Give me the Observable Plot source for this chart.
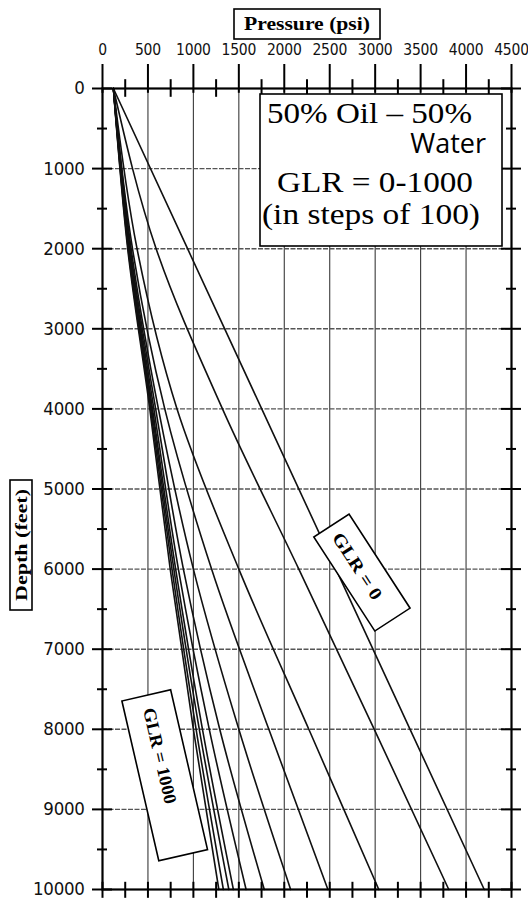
<!DOCTYPE html>
<html><head><meta charset="utf-8">
<script src="https://cdn.jsdelivr.net/npm/d3@7"></script>
<script src="https://cdn.jsdelivr.net/npm/@observablehq/plot@0.6"></script>
<style>
html,body{margin:0;padding:0;background:#fff;}
#chart{position:relative;width:528px;height:899px;}
</style></head><body><div id="chart"></div>
<script>
// Depth points (ft) at which each curve's pressure was read
const depths = [0, 2000, 4000, 6000, 8000, 10000];
const glrLevels = [0, 100, 200, 300, 400, 500, 600, 700, 800, 900, 1000];
// Pressure (psi) at each depth, one array per GLR curve
const glr0    = [120, 936, 1752, 2568, 3384, 4200];
const glr100  = [120, 590, 1320, 2160, 2990, 3810];
const glr200  = [120, 380, 820, 1500, 2270, 3040];
const glr300  = [120, 330, 685, 1200, 1830, 2480];
const glr400  = [120, 315, 615, 1000, 1500, 2070];
const glr500  = [120, 305, 585, 890, 1290, 1780];
const glr600  = [120, 298, 565, 835, 1175, 1580];
const glr700  = [120, 292, 550, 805, 1100, 1440];
const glr800  = [120, 287, 540, 785, 1065, 1390];
const glr900  = [120, 282, 530, 765, 1030, 1330];
const glr1000 = [120, 277, 520, 745, 1000, 1280];
const pressureTicks = [0, 500, 1000, 1500, 2000, 2500, 3000, 3500, 4000, 4500];
const pressureMinor = [250, 750, 1250, 1750, 2250, 2750, 3250, 3750, 4250];
const depthTicks = [0, 1000, 2000, 3000, 4000, 5000, 6000, 7000, 8000, 9000, 10000];
const depthMinor = [500, 1500, 2500, 3500, 4500, 5500, 6500, 7500, 8500, 9500];

const series = [glr0, glr100, glr200, glr300, glr400, glr500, glr600, glr700, glr800, glr900, glr1000];
const rows = series.flatMap((vals, i) => vals.map((p, j) => ({glr: glrLevels[i], depth: depths[j], pressure: p})));
const pressure250 = pressureTicks.concat(pressureMinor);

const numFont = "'Liberation Sans Narrow','DejaVu Sans Condensed','Arial Narrow',sans-serif";
const serif = "'Liberation Serif','Times New Roman',serif";

const plot = Plot.plot({
  width: 528,
  height: 899,
  marginTop: 88,
  marginLeft: 102,
  marginRight: 17,
  marginBottom: 10,
  style: {fontFamily: numFont, fontSize: "16px", color: "#111", background: "#fff"},
  x: {domain: [0, 4500], axis: "top", ticks: pressureTicks, tickSize: 0, tickPadding: 34, tickFormat: d => String(d), label: null},
  y: {domain: [0, 10000], reverse: true, axis: "left", ticks: depthTicks, tickSize: 0, tickPadding: 18, tickFormat: d => String(d), label: null},
  marks: [
    Plot.ruleX(pressureTicks.slice(1, -1), {y1: 0, y2: 10000, stroke: "#3a3a3a", strokeWidth: 1.1}),
    Plot.ruleY(depthTicks.slice(1, -1), {x1: 0, x2: 4500, stroke: "#555", strokeWidth: 1.4, strokeDasharray: "5,1.5"}),
    Plot.line(rows, {x: "pressure", y: "depth", z: "glr", stroke: "#111", strokeWidth: 1.6, curve: "monotone-y"}),
    Plot.frame({stroke: "#000", strokeWidth: 2.2}),
    Plot.ruleX(pressureTicks, {y1: -300, y2: 60, stroke: "#000", strokeWidth: 2}),
    Plot.ruleX(pressureMinor, {y1: -110, y2: 110, stroke: "#000", strokeWidth: 2}),
    Plot.ruleX(pressure250, {y1: 9910, y2: 10110, stroke: "#000", strokeWidth: 2}),
    Plot.ruleY(depthTicks, {x1: -110, x2: 110, stroke: "#000", strokeWidth: 2}),
    Plot.ruleY(depthMinor, {x1: -55, x2: 55, stroke: "#000", strokeWidth: 2}),
    Plot.ruleY(depthTicks, {x1: 4390, x2: 4610, stroke: "#000", strokeWidth: 2}),
    Plot.ruleY(depthMinor, {x1: 4445, x2: 4555, stroke: "#000", strokeWidth: 2})
  ]
});
document.getElementById("chart").appendChild(plot);

const svg = d3.select(plot);
const xs = plot.scale("x"), ys = plot.scale("y");
svg.selectAll("[aria-label='x-axis tick label'] text").attr("font-size", 15.5).attr("letter-spacing", "-0.2");
svg.selectAll("[aria-label='y-axis tick label'] text").attr("font-size", 18.5).attr("letter-spacing", "-0.3");

function fit(sel, len) { return sel.attr("textLength", len).attr("lengthAdjust", "spacingAndGlyphs"); }

// Axis titles
const pt = svg.append("g").attr("transform", "translate(307,24)");
pt.append("rect").attr("x", -73).attr("y", -15).attr("width", 146).attr("height", 30).attr("fill", "#fff").attr("stroke", "#000").attr("stroke-width", 1.6);
fit(pt.append("text").attr("text-anchor", "middle").attr("dy", "0.35em").attr("font-family", serif).attr("font-weight", "bold").attr("font-size", 18).attr("fill", "#000").text("Pressure (psi)"), 126);

const dt = svg.append("g").attr("transform", "translate(21,545) rotate(-90)");
dt.append("rect").attr("x", -65).attr("y", -11).attr("width", 130).attr("height", 22).attr("fill", "#fff").attr("stroke", "#000").attr("stroke-width", 1.6);
fit(dt.append("text").attr("text-anchor", "middle").attr("dy", "0.35em").attr("font-family", serif).attr("font-weight", "bold").attr("font-size", 16.5).attr("fill", "#000").text("Depth (feet)"), 112);

// Legend box
const lg = svg.append("g");
lg.append("rect").attr("x", 260).attr("y", 94).attr("width", 242).attr("height", 152).attr("fill", "#fff").attr("stroke", "#000").attr("stroke-width", 1.6);
fit(lg.append("text").attr("x", 267).attr("y", 123).attr("text-anchor", "start").attr("font-family", serif).attr("font-size", 30).attr("fill", "#000").text("50% Oil \u2013 50%"), 205);
lg.append("text").attr("x", 486).attr("y", 153).attr("text-anchor", "end").attr("font-family", "'Open Sans','Liberation Sans',sans-serif").attr("font-size", 27).attr("fill", "#000").text("Water");
fit(lg.append("text").attr("x", 277).attr("y", 192).attr("text-anchor", "start").attr("font-family", serif).attr("font-size", 30).attr("fill", "#000").text("GLR = 0-1000"), 196);
fit(lg.append("text").attr("x", 262).attr("y", 224).attr("text-anchor", "start").attr("font-family", serif).attr("font-size", 30).attr("fill", "#000").text("(in steps of 100)"), 218);

// Rotated curve labels (positioned in data coordinates)
function tag(p, d, angle, w, h, label, shift, len) {
  const g = svg.append("g").attr("transform", `translate(${xs.apply(p)},${ys.apply(d)}) rotate(${angle})`);
  g.append("rect").attr("x", -w / 2).attr("y", -h / 2).attr("width", w).attr("height", h).attr("fill", "#fff").attr("stroke", "#000").attr("stroke-width", 1.6);
  fit(g.append("text").attr("x", shift).attr("text-anchor", "middle").attr("dy", "0.35em").attr("font-family", serif).attr("font-weight", "bold").attr("font-size", 18).attr("fill", "#000").text(label), len);
}
tag(2860, 6050, 57, 112, 42, "GLR = 0", -8, 76);
tag(690, 8580, 77, 164, 50, "GLR = 1000", -20, 98);
</script></body></html>
